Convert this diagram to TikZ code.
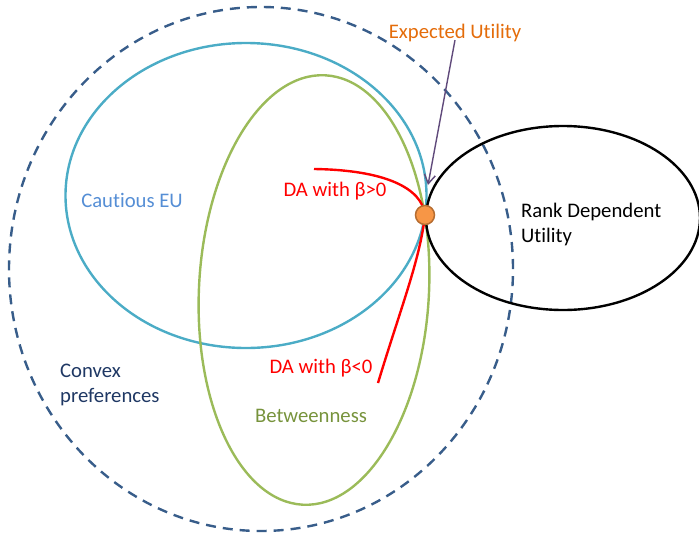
\documentclass[tikz,border=0pt]{standalone}
\usepackage{fontspec}
\setmainfont{Carlito}[Ligatures=NoCommon]
\usetikzlibrary{shapes.geometric,arrows.meta}
\definecolor{dashblue}{HTML}{385D8A}
\definecolor{aqua}{HTML}{4BACC6}
\definecolor{olive}{HTML}{9BBB59}
\definecolor{olivetext}{HTML}{77933C}
\definecolor{cautext}{HTML}{558ED5}
\definecolor{eutext}{HTML}{E46C0A}
\definecolor{navy}{HTML}{1F3864}
\definecolor{ptfill}{HTML}{F79646}
\definecolor{ptdraw}{HTML}{B66D31}
\definecolor{arrowpurple}{HTML}{604A7B}
\tikzset{
  region/.style={ellipse, draw, line width=2.4pt, inner sep=0pt, fill=none},
  lbl/.style={font=\fontsize{20.7}{25}\selectfont, inner sep=0pt},
  dacurve/.style={draw=red, line width=2.4pt},
}
\begin{document}
\begin{tikzpicture}[x=1pt,y=-1pt]
\useasboundingbox (0,0) rectangle (699,536);
% regions
\node[region, draw=dashblue, dash pattern=on 10pt off 7pt, minimum width=504pt, minimum height=524pt] (cp) at (261,269) {};
\node[region, draw=aqua, minimum width=361pt, minimum height=305pt] (ceu) at (246,195.5) {};
\node[region, draw=olive, minimum width=230pt, minimum height=430pt, rotate=-3] (bet) at (314,290) {};
\node[region, draw=black, minimum width=274pt, minimum height=184pt] (rdu) at (563,218) {};
% DA curves
\coordinate (dapos) at (314,169);
\coordinate (daneg) at (378,383);
\coordinate (pc) at (425,215);
\draw[dacurve] (dapos) .. controls (385,170) and (422,188) .. (pc);
\draw[dacurve] (pc) .. controls (420,260) and (400,310) .. (daneg);
% point
\node[circle, draw=ptdraw, fill=ptfill, line width=1.5pt, minimum size=19pt, inner sep=0pt] (eupt) at (pc) {};
% labels
\node[lbl, text=eutext] (eu) at (455,33) {Expected Utility};
\node[lbl, text=cautext] (cl) at (132,200) {Cautious EU};
\node[lbl, text=red] (dap) at (335,191) {DA with β>0};
\node[lbl, text=red] (dan) at (321,368) {DA with β<0};
\node[lbl, text=navy, align=left, anchor=west] (cvx) at (60,384.5) {Convex\\preferences};
\node[lbl, text=olivetext] (btl) at (311,416) {Betweenness};
\node[lbl, text=black, align=left, anchor=west] (rdl) at (521,224.5) {Rank Dependent\\Utility};
% arrow
\coordinate (tip) at (428,185);
\draw[arrowpurple, line width=1.4pt, -{Straight Barb[length=9pt,width=11pt]}] ([yshift=2pt]eu.south) -- (tip);
\end{tikzpicture}
\end{document}
